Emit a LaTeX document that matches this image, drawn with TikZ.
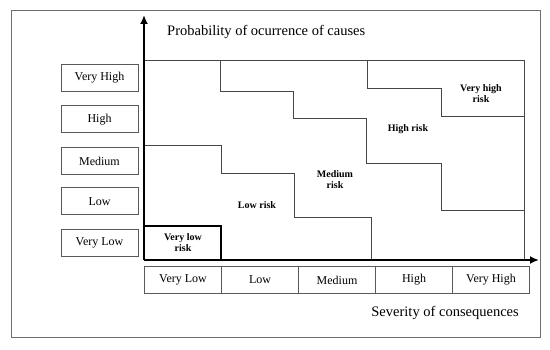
\documentclass[tikz,border=0pt]{standalone}
\usepackage{fontspec}
\setmainfont{Liberation Serif}
\usepackage{tikz}
\usetikzlibrary{
arrows.meta,
positioning
}
\definecolor{rmframe}{RGB}{110,110,110}
\definecolor{rmline}{RGB}{70,70,70}
\definecolor{rmbox}{RGB}{90,90,90}

\begin{document}
\begin{tikzpicture}[x=1pt, y=-1pt, >={Latex[length=9pt,width=8pt]},
  axisbox/.style={draw=rmbox, line width=0.9pt, minimum width=77pt, minimum height=27pt,
    inner sep=0pt, font=\fontsize{12}{14}\selectfont},
  zoneline/.style={draw=rmline, line width=1pt},
  risklabel/.style={font=\fontsize{10}{11}\selectfont\bfseries, align=center, inner sep=1pt},
  axistitle/.style={font=\fontsize{14.5}{17}\selectfont, inner sep=0pt}]

\useasboundingbox (0,0) rectangle (550,350);

% Frame
\draw[rmframe, line width=1pt] (11,11) rectangle (540,338);

% Probability boxes
\node[axisbox] (pvh) at (99.5,77.5) {Very High};
\node[axisbox, below=14pt of pvh] (ph) {High};
\node[axisbox, below=14pt of ph] (pm) {Medium};
\node[axisbox, below=12pt of pm] (pl) {Low};
\node[axisbox, below=14pt of pl] (pvl) {Very Low};

% Severity boxes
\node[axisbox] (svl) at (183,280) {Very Low};
\node[axisbox, right=-0.9pt of svl] (sl) {Low};
\node[axisbox, right=-0.9pt of sl] (sm) {Medium};
\node[axisbox, right=-0.9pt of sm] (sh) {High};
\node[axisbox, right=-0.9pt of sh] (svh) {Very High};

% Risk zones
\draw[zoneline] (144,61) -- (524,61) -- (524,260);
\draw[zoneline] (144,146) -- (221,146) -- (221,174) -- (294,174) -- (294,218)
  -- (371,218) -- (371,260);
\draw[zoneline] (220,61) -- (220,92) -- (293,92) -- (293,119) -- (366,119)
  -- (366,164) -- (441,164) -- (441,211) -- (524,211);
\draw[zoneline] (367,61) -- (367,89) -- (441,89) -- (441,117) -- (524,117);
\draw[black, line width=2.2pt] (144,226) -- (221,226) -- (221,260);

\node[risklabel] (rvl) at (183,243) {Very low\\risk};
\node[risklabel] (rl) at (257,205) {Low risk};
\node[risklabel] (rm) at (335,180) {Medium\\risk};
\node[risklabel] (rh) at (408,129) {High risk};
\node[risklabel] (rvh) at (481,94) {Very high\\risk};

% Axes
\coordinate (o) at (144,260);
\coordinate (ytip) at (144,15);
\coordinate (xtip) at (539,260);
\draw[->, line width=2.8pt] (o) -- (ytip);
\draw[->, line width=2.8pt] (o) -- (xtip);

\node[axistitle, anchor=west] (ptitle) at (167,32) {Probability of ocurrence of causes};
\node[axistitle, anchor=east] (stitle) at (519,313) {Severity of consequences};

\end{tikzpicture}
\end{document}
